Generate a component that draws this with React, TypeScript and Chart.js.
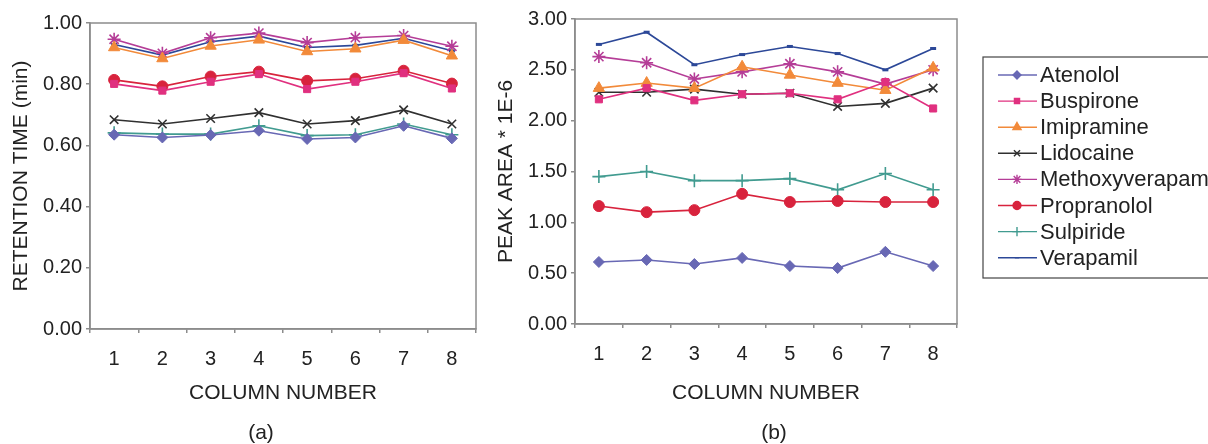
import { useEffect, useRef } from 'react';
import { Chart, registerables } from 'chart.js';
import { drawPoint } from 'chart.js/helpers';

Chart.register(...registerables);

const FONT = '"Liberation Sans", Arial, sans-serif';

// ---------- data ----------
const columns = ['1', '2', '3', '4', '5', '6', '7', '8'];

const seriesNames = [
  'Atenolol',
  'Buspirone',
  'Imipramine',
  'Lidocaine',
  'Methoxyverapamil',
  'Propranolol',
  'Sulpiride',
  'Verapamil',
];

// (a) retention time (min)
const atenololRT = [0.635, 0.626, 0.634, 0.648, 0.621, 0.626, 0.664, 0.623];
const buspironeRT = [0.801, 0.779, 0.808, 0.833, 0.784, 0.808, 0.836, 0.786];
const imipramineRT = [0.92, 0.884, 0.925, 0.945, 0.907, 0.916, 0.944, 0.893];
const lidocaineRT = [0.684, 0.67, 0.688, 0.707, 0.67, 0.681, 0.716, 0.67];
const methoxyverapamilRT = [0.947, 0.901, 0.952, 0.967, 0.936, 0.952, 0.959, 0.924];
const propranololRT = [0.814, 0.793, 0.825, 0.841, 0.811, 0.818, 0.844, 0.802];
const sulpirideRT = [0.641, 0.637, 0.637, 0.664, 0.632, 0.635, 0.67, 0.635];
const verapamilRT = [0.93, 0.895, 0.939, 0.957, 0.92, 0.927, 0.95, 0.909];

// (b) peak area * 1E-6
const atenololPA = [0.61, 0.63, 0.59, 0.65, 0.57, 0.55, 0.71, 0.57];
const buspironePA = [2.21, 2.32, 2.2, 2.26, 2.27, 2.21, 2.38, 2.12];
const imipraminePA = [2.32, 2.37, 2.32, 2.53, 2.45, 2.37, 2.3, 2.52];
const lidocainePA = [2.28, 2.28, 2.31, 2.26, 2.27, 2.14, 2.17, 2.32];
const methoxyverapamilPA = [2.63, 2.57, 2.41, 2.48, 2.56, 2.48, 2.36, 2.5];
const propranololPA = [1.16, 1.1, 1.12, 1.28, 1.2, 1.21, 1.2, 1.2];
const sulpiridePA = [1.45, 1.5, 1.41, 1.41, 1.43, 1.32, 1.48, 1.32];
const verapamilPA = [2.75, 2.87, 2.55, 2.65, 2.73, 2.66, 2.5, 2.71];

const retentionSeries = [
  atenololRT, buspironeRT, imipramineRT, lidocaineRT,
  methoxyverapamilRT, propranololRT, sulpirideRT, verapamilRT,
];
const peakAreaSeries = [
  atenololPA, buspironePA, imipraminePA, lidocainePA,
  methoxyverapamilPA, propranololPA, sulpiridePA, verapamilPA,
];

const retentionTicks = [0, 0.2, 0.4, 0.6, 0.8, 1.0];
const peakAreaTicks = [0, 0.5, 1.0, 1.5, 2.0, 2.5, 3.0];

// ---------- styles ----------
const seriesColors = ['#6868b4', '#e0307f', '#f28a3a', '#303030', '#b53d97', '#d8233d', '#419b90', '#2c4898'];
const pointStyles = ['rectRot', 'rect', 'triangle', 'crossRot', 'star', 'circle', 'cross', 'line'];
const pointRadii = [5.5, 5, 6.5, 6, 6.5, 5.5, 6.5, 3];
const pointBorderWidths = [1, 1, 1, 1.6, 1.6, 1, 1.6, 3];

const AXIS_COLOR = '#8c8c8c';
const TEXT_COLOR = '#222222';

function makeDatasets(values: number[][]) {
  return seriesNames.map((name, i) => ({
    label: name,
    data: values[i],
    borderColor: seriesColors[i],
    backgroundColor: seriesColors[i],
    pointBackgroundColor: seriesColors[i],
    pointBorderColor: seriesColors[i],
    pointStyle: pointStyles[i],
    pointRadius: pointRadii[i],
    pointBorderWidth: pointBorderWidths[i],
    borderWidth: 1.6,
    tension: 0,
    fill: false,
  }));
}

const plotBox = {
  id: 'plotBox',
  beforeDatasetsDraw(chart: any) {
    const { ctx, chartArea: a } = chart;
    ctx.save();
    ctx.strokeStyle = AXIS_COLOR;
    ctx.lineWidth = 1.5;
    ctx.strokeRect(a.left, a.top, a.right - a.left, a.bottom - a.top);
    ctx.restore();
  },
};

const caption = {
  id: 'caption',
  afterDraw(chart: any, _args: any, opts: any) {
    if (!opts || !opts.text) return;
    const { ctx } = chart;
    ctx.save();
    ctx.fillStyle = TEXT_COLOR;
    ctx.font = `21px ${FONT}`;
    ctx.textAlign = 'center';
    ctx.textBaseline = 'middle';
    ctx.fillText(opts.text, opts.x, opts.y);
    ctx.restore();
  },
};

const boxLegend = {
  id: 'boxLegend',
  afterDraw(chart: any, _args: any, opts: any) {
    if (!opts || !opts.display) return;
    const { ctx } = chart;
    const x0 = opts.x;
    const y0 = opts.y;
    ctx.save();
    ctx.strokeStyle = '#444';
    ctx.lineWidth = 1.2;
    ctx.strokeRect(x0, y0, 300, 221);
    ctx.font = `22px ${FONT}`;
    ctx.textBaseline = 'middle';
    ctx.textAlign = 'left';
    chart.data.datasets.forEach((ds: any, i: number) => {
      const y = y0 + 18 + i * 26.1;
      ctx.strokeStyle = ds.borderColor;
      ctx.fillStyle = ds.borderColor;
      ctx.lineWidth = 1.4;
      ctx.beginPath();
      ctx.moveTo(x0 + 15, y);
      ctx.lineTo(x0 + 54, y);
      ctx.stroke();
      drawPoint(
        ctx,
        {
          pointStyle: ds.pointStyle,
          radius: ds.pointRadius * 0.72,
          rotation: 0,
          borderWidth: Math.min(ds.pointBorderWidth, 2.5),
        } as any,
        x0 + 34,
        y
      );
      ctx.fillStyle = TEXT_COLOR;
      ctx.fillText(ds.label, x0 + 57, y + 1);
    });
    ctx.restore();
  },
};

function buildOptions(p: {
  yTicks: number[];
  yTitle: string;
  yWidth: number;
  yTitlePad: number;
  padding: { left: number; right: number; top: number; bottom: number };
  xHeight: number;
  captionText: string;
  captionX: number;
  legend: boolean;
}) {
  const yMin = p.yTicks[0];
  const yMax = p.yTicks[p.yTicks.length - 1];
  const step = p.yTicks[1] - p.yTicks[0];
  return {
    responsive: false,
    animation: false as const,
    layout: { padding: p.padding, autoPadding: false },
    plugins: {
      legend: { display: false },
      tooltip: { enabled: false },
      caption: { text: p.captionText, x: p.captionX, y: 433 },
      boxLegend: { display: p.legend, x: 503, y: 57 },
    },
    scales: {
      x: {
        type: 'category' as const,
        offset: true,
        grid: {
          display: true,
          offset: true,
          drawOnChartArea: false,
          drawTicks: true,
          tickLength: 4,
          color: AXIS_COLOR,
          lineWidth: 1.5,
        },
        border: { display: true, color: AXIS_COLOR, width: 1.5 },
        ticks: {
          color: TEXT_COLOR,
          font: { family: FONT, size: 20 },
          padding: 14,
          maxRotation: 0,
        },
        title: {
          display: true,
          text: 'COLUMN NUMBER',
          color: TEXT_COLOR,
          font: { family: FONT, size: 21 },
          padding: { top: 0, bottom: 38 },
        },
        afterFit: (s: any) => {
          s.height = p.xHeight;
        },
      },
      y: {
        min: yMin,
        max: yMax,
        grid: {
          display: true,
          drawOnChartArea: false,
          drawTicks: true,
          tickLength: 4,
          color: AXIS_COLOR,
          lineWidth: 1.5,
        },
        border: { display: true, color: AXIS_COLOR, width: 1.5 },
        ticks: {
          stepSize: step,
          color: TEXT_COLOR,
          font: { family: FONT, size: 20 },
          padding: 4,
          callback: (v: any) => Number(v).toFixed(2),
        },
        title: {
          display: true,
          text: p.yTitle,
          color: TEXT_COLOR,
          font: { family: FONT, size: 21 },
          padding: { top: p.yTitlePad, bottom: 0 },
        },
        afterFit: (s: any) => {
          s.width = p.yWidth;
        },
      },
    },
  };
}

export default function App() {
  const leftRef = useRef<HTMLCanvasElement | null>(null);
  const rightRef = useRef<HTMLCanvasElement | null>(null);

  useEffect(() => {
    const left = new Chart(leftRef.current as HTMLCanvasElement, {
      type: 'line',
      data: { labels: columns, datasets: makeDatasets(retentionSeries) },
      options: buildOptions({
        yTicks: retentionTicks,
        yTitle: 'RETENTION TIME (min)',
        yWidth: 90,
        yTitlePad: 9,
        padding: { left: 0, right: 4, top: 23, bottom: 0 },
        xHeight: 115,
        captionText: '(a)',
        captionX: 261,
        legend: false,
      }) as any,
      plugins: [plotBox, caption, boxLegend],
    });
    const right = new Chart(rightRef.current as HTMLCanvasElement, {
      type: 'line',
      data: { labels: columns, datasets: makeDatasets(peakAreaSeries) },
      options: buildOptions({
        yTicks: peakAreaTicks,
        yTitle: 'PEAK AREA * 1E-6',
        yWidth: 95,
        yTitlePad: 14,
        padding: { left: 0, right: 251, top: 19, bottom: 0 },
        xHeight: 120,
        captionText: '(b)',
        captionX: 294,
        legend: true,
      }) as any,
      plugins: [plotBox, caption, boxLegend],
    });
    return () => {
      left.destroy();
      right.destroy();
    };
  }, []);

  return (
    <div style={{ position: 'absolute', left: 0, top: 0, width: 1208, height: 444, background: '#fff', overflow: 'hidden' }}>
      <canvas
        ref={leftRef}
        width={480}
        height={444}
        style={{ position: 'absolute', left: 0, top: 0, width: 480, height: 444 }}
      />
      <canvas
        ref={rightRef}
        width={728}
        height={444}
        style={{ position: 'absolute', left: 480, top: 0, width: 728, height: 444 }}
      />
    </div>
  );
}
